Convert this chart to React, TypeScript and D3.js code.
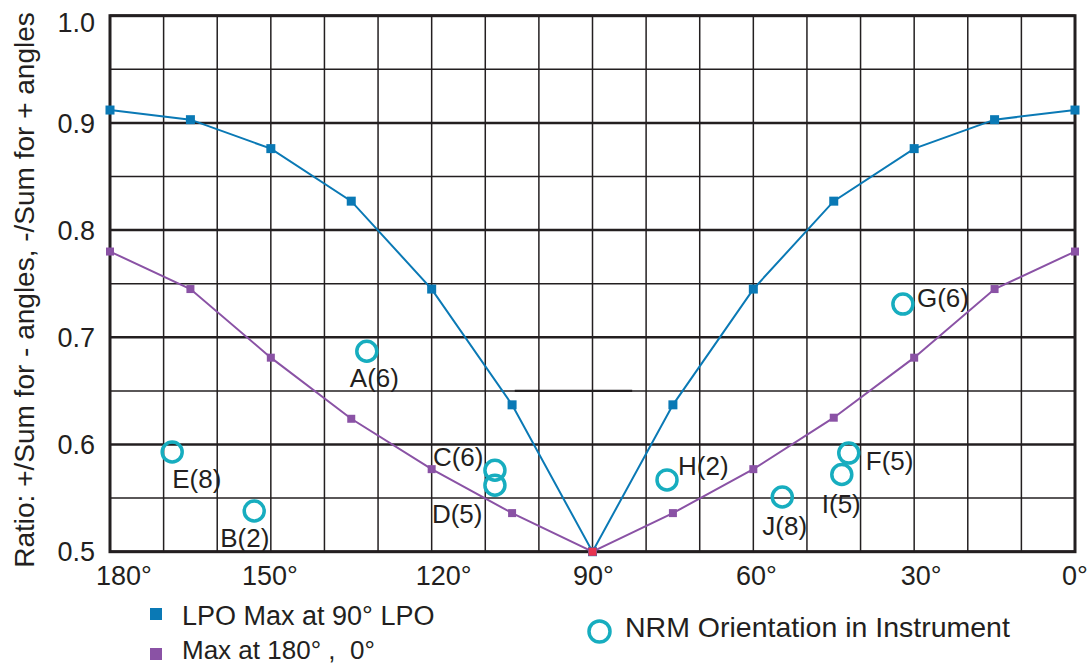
import React from 'react';
import * as d3 from 'd3';

// angles in instrument (deg)
const angles = [180, 165, 150, 135, 120, 105, 90, 75, 60, 45, 30, 15, 0];
const lpoMax90 = [0.912, 0.903, 0.876, 0.827, 0.745, 0.637, 0.5, 0.637, 0.745, 0.827, 0.876, 0.903, 0.912];
const max180 = [0.780, 0.745, 0.681, 0.624, 0.577, 0.536, 0.5, 0.536, 0.577, 0.625, 0.681, 0.745, 0.780];

// NRM orientations
const nrmLabels = ['A(6)', 'E(8)', 'B(2)', 'C(6)', 'D(5)', 'H(2)', 'J(8)', 'I(5)', 'F(5)', 'G(6)'];
const nrmAngle = [132.1, 168.4, 153.1, 108.2, 108.2, 76.1, 54.6, 43.5, 42.2, 32.1];
const nrmRatio = [0.687, 0.593, 0.538, 0.576, 0.562, 0.567, 0.551, 0.572, 0.592, 0.731];
// label placement relative to circle (left, baseline)
const labelOffset = [[-17, 36], [0, 36], [-34, 36], [-62, -4], [-63, 38], [11, -5], [-20, 38], [-20, 38], [17, 17], [14, 3]];

const centerPoint = [90, 0.5];
const refSegment = [[104.5, 0.65], [82.6, 0.65]];

const xTicks = [180, 150, 120, 90, 60, 30, 0];
const xTickDx = [14, -1, 12, 1, 3, 7, 0];
const yTicks = [0.5, 0.6, 0.7, 0.8, 0.9, 1.0];

const BLUE = '#0a79b5';
const PURPLE = '#8a52a5';
const CYAN = '#17adbf';
const INK = '#231f20';
const FONT = '"Liberation Sans", Arial, Helvetica, sans-serif';

export default function App() {
  const W = 1087;
  const H = 666;
  const x = d3.scaleLinear().domain([180, 0]).range([110, 1075]);
  const y = d3.scaleLinear().domain([0.5, 1.0]).range([551.7, 15.7]);

  const line = d3.line<number>()
    .x((d, i) => x(angles[i]))
    .y(d => y(d));

  const vGrid = d3.range(0, 181, 10);
  const hGrid = d3.range(0, 11).map(i => 0.5 + i * 0.05);

  return (
    <svg width={W} height={H} style={{ position: 'absolute', left: 0, top: 0, background: '#fff' }} fontFamily={FONT}>
      {/* grid */}
      {vGrid.map(v => (
        <line key={'v' + v} x1={x(v)} x2={x(v)} y1={y(0.5)} y2={y(1.0)} stroke={INK} strokeWidth={1.5} />
      ))}
      {hGrid.map((v, i) => (
        <line key={'h' + i} x1={x(180)} x2={x(0)} y1={y(v)} y2={y(v)} stroke={INK}
          strokeWidth={i % 2 === 0 ? 2.5 : 1.5} />
      ))}
      <rect x={x(180)} y={y(1.0)} width={x(0) - x(180)} height={y(0.5) - y(1.0)} fill="none" stroke={INK} strokeWidth={3} />

      <line x1={x(refSegment[0][0])} x2={x(refSegment[1][0])} y1={y(refSegment[0][1])} y2={y(refSegment[1][1])}
        stroke={INK} strokeWidth={2.2} />

      {/* series */}
      <path d={line(lpoMax90) || ''} fill="none" stroke={BLUE} strokeWidth={2} />
      <path d={line(max180) || ''} fill="none" stroke={PURPLE} strokeWidth={2} />
      {lpoMax90.map((v, i) => (
        <rect key={'b' + i} x={x(angles[i]) - 4.5} y={y(v) - 4.5} width={9} height={9} fill={BLUE} />
      ))}
      {max180.map((v, i) => (
        <rect key={'p' + i} x={x(angles[i]) - 4} y={y(v) - 4} width={8} height={8} fill={PURPLE} />
      ))}
      <rect x={x(centerPoint[0]) - 4} y={y(centerPoint[1]) - 4} width={8} height={8} fill="#e8334f" />

      {/* NRM */}
      {nrmLabels.map((lab, i) => {
        const cx = x(nrmAngle[i]);
        const cy = y(nrmRatio[i]);
        return (
          <g key={lab}>
            <circle cx={cx} cy={cy} r={10} fill="none" stroke={CYAN} strokeWidth={3.5} />
            <text x={cx + labelOffset[i][0]} y={cy + labelOffset[i][1]} fontSize={26} fill={INK}>{lab}</text>
          </g>
        );
      })}

      {/* axes labels */}
      {yTicks.map((v, i) => (
        <text key={'yt' + v} x={95} y={y(v) + (v === 1.0 ? 7 : 0)} dy="0.36em" textAnchor="end" fontSize={27} fill={INK}>
          {v.toFixed(1)}
        </text>
      ))}
      {xTicks.map((v, i) => (
        <text key={'xt' + v} x={x(v) + xTickDx[i]} y={585} textAnchor="middle" fontSize={27} fill={INK}>
          {v + '°'}
        </text>
      ))}
      <text transform={`translate(34, 290) rotate(-90)`} textAnchor="middle" fontSize={28} fill={INK}>
        Ratio: +/Sum for - angles, -/Sum for + angles
      </text>

      {/* legend */}
      <rect x={150} y={608} width={12} height={12} fill={BLUE} />
      <text x={182} y={625} fontSize={27} fill={INK}>LPO Max at 90° LPO</text>
      <rect x={150} y={648} width={12} height={12} fill={PURPLE} />
      <text x={182} y={659} fontSize={26} fill={INK} style={{ whiteSpace: 'pre' }}>{'Max at 180° ,  0°'}</text>
      <circle cx={599.5} cy={631.5} r={10.5} fill="none" stroke={CYAN} strokeWidth={3.5} />
      <text x={625} y={637} fontSize={28.5} fill={INK}>NRM Orientation in Instrument</text>
    </svg>
  );
}
